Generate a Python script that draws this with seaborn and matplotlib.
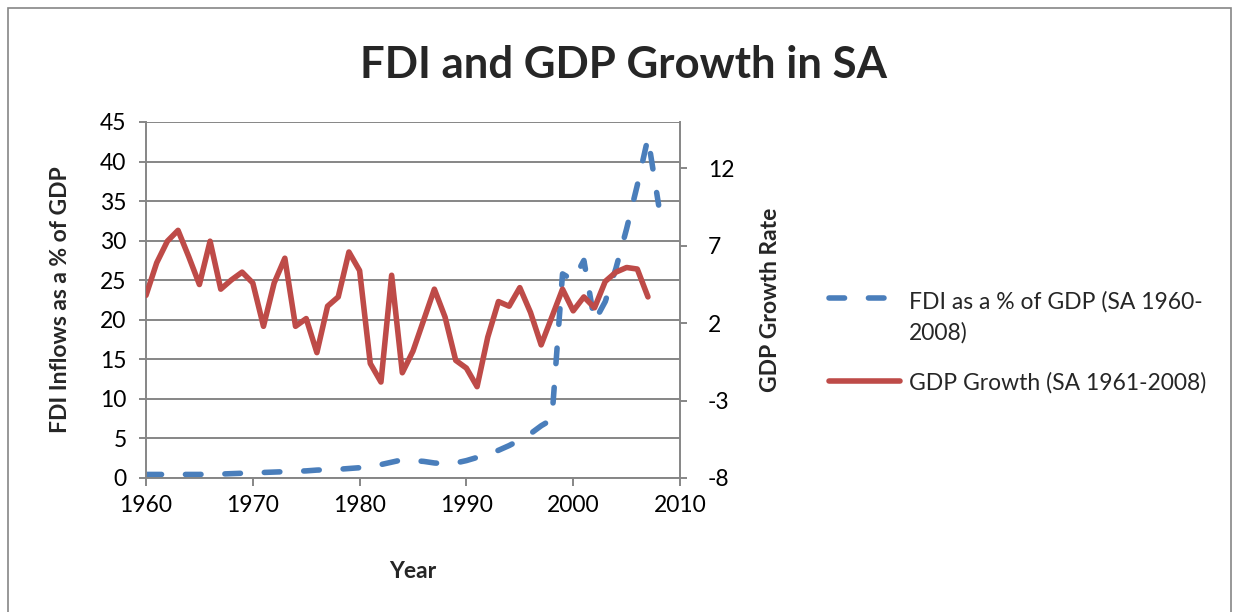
import numpy as np
import pandas as pd
import matplotlib
matplotlib.use("Agg")
import matplotlib.pyplot as plt
import seaborn as sns
from matplotlib.patches import Rectangle
from matplotlib.legend_handler import HandlerLine2D

# ---------------- data ----------------
fdi_years = list(range(1960, 2009))
fdi_values = [0.45, 0.45, 0.45, 0.45, 0.45, 0.45, 0.5, 0.5, 0.55, 0.6,
              0.65, 0.7, 0.75, 0.8, 0.85, 0.9, 1.0, 1.05, 1.1, 1.2,
              1.3, 1.45, 1.7, 2.0, 2.3, 2.2, 2.1, 1.9, 1.8, 1.9,
              2.2, 2.6, 3.0, 3.5, 4.1, 4.8, 5.6, 6.6, 7.4, 25.8,
              25.0, 27.5, 19.8, 22.3, 26.5, 31.5, 37.0, 43.0, 34.5]

gdp_years = list(range(1960, 2008))
gdp_values = [3.8, 5.9, 7.3, 8.0, 6.3, 4.5, 7.3, 4.2, 4.8, 5.3,
              4.6, 1.8, 4.6, 6.2, 1.8, 2.3, 0.1, 3.1, 3.7, 6.6,
              5.4, -0.6, -1.8, 5.1, -1.2, 0.2, 2.2, 4.2, 2.4, -0.4,
              -0.9, -2.1, 1.1, 3.4, 3.1, 4.3, 2.7, 0.6, 2.4, 4.2,
              2.8, 3.7, 3.0, 4.7, 5.3, 5.6, 5.5, 3.7]

x_ticks = [1960, 1970, 1980, 1990, 2000, 2010]
left_ticks = [0, 5, 10, 15, 20, 25, 30, 35, 40, 45]
right_ticks = [-8, -3, 2, 7, 12]

title_text = "FDI and GDP Growth in SA"
x_label = "Year"
left_label = "FDI Inflows as a % of GDP"
right_label = "GDP Growth Rate"
fdi_label = "FDI as a % of GDP (SA 1960-\n2008)"
gdp_label = "GDP Growth (SA 1961-2008)"

df_fdi = pd.DataFrame({"Year": fdi_years, "FDI": fdi_values})
df_gdp = pd.DataFrame({"Year": gdp_years, "GDP": gdp_values})

# ---------------- style ----------------
sns.set_theme(style="white")
plt.rcParams['font.family'] = ['Lato', 'DejaVu Sans']
plt.rcParams['axes.unicode_minus'] = False

BLUE = "#4A7EBB"
RED = "#BE4B48"
GRID = "#868686"
FS = 16.5

fig = plt.figure(figsize=(12.39, 6.12), dpi=100)
fig.patch.set_facecolor("white")
L, R, T, B = 146 / 1239, 680 / 1239, 1 - 122 / 612, 1 - 478 / 612
ax = fig.add_axes([L, B, R - L, T - B])
ax2 = ax.twinx()

sns.lineplot(data=df_fdi, x="Year", y="FDI", ax=ax, color=BLUE, linewidth=4.0,
             linestyle=(0, (2.8, 4.3)), dash_capstyle="round", label=fdi_label,
             legend=False)
sns.lineplot(data=df_gdp, x="Year", y="GDP", ax=ax2, color=RED, linewidth=4.0,
             solid_capstyle="round", solid_joinstyle="round", label=gdp_label,
             legend=False)

ax.set_xlim(1960, 2010)
ax.set_ylim(0, 45)
ax2.set_ylim(-8, 15)
ax.set_xticks(x_ticks)
ax.set_yticks(left_ticks)
ax2.set_yticks(right_ticks)

ax.set_axisbelow(True)
ax.yaxis.grid(True, color=GRID, linewidth=1.4)
ax.xaxis.grid(False)
ax2.grid(False)

for s in ["top", "right"]:
    ax.spines[s].set_visible(False)
for s in ["left", "bottom"]:
    ax.spines[s].set_color(GRID)
    ax.spines[s].set_linewidth(1.4)
for s in ["top", "left", "bottom"]:
    ax2.spines[s].set_visible(False)
ax2.spines["right"].set_color(GRID)
ax2.spines["right"].set_linewidth(1.4)

ax.tick_params(axis="y", direction="out", length=5, width=1.4, color=GRID,
               labelsize=FS, pad=9, left=True, labelcolor="black")
ax.tick_params(axis="x", direction="out", length=6, width=1.4, color=GRID,
               labelsize=FS, pad=6, bottom=True, labelcolor="black")
ax2.tick_params(axis="y", direction="out", length=5, width=1.4, color=GRID,
                labelsize=FS, pad=15, right=True, labelcolor="black")

ax.set_xlabel(x_label, fontsize=FS, fontweight="bold")
ax.set_ylabel(left_label, fontsize=FS, fontweight="bold")
ax2.set_ylabel(right_label, fontsize=FS, fontweight="bold")
ax.xaxis.set_label_coords(0.5, (478 - 561) / 356)
ax.yaxis.set_label_coords((71 - 146) / 534, 0.5)
ax2.yaxis.set_label_coords((760 - 146) / 534, 0.5)

fig.text(624 / 1239, 1 - 65 / 612, title_text, ha="center", va="center",
         fontsize=31.5, fontweight="bold")


class FirstLineHandler(HandlerLine2D):
    def __init__(self, shift=0.0, **kw):
        super().__init__(**kw)
        self.shift = shift

    def create_artists(self, legend, orig_handle, xdescent, ydescent, width,
                       height, fontsize, trans):
        arts = super().create_artists(legend, orig_handle, xdescent, ydescent,
                                      width, height, fontsize, trans)
        for a in arts:
            a.set_ydata(np.asarray(a.get_ydata()) + self.shift)
        return arts


h1 = ax.lines[0]
h2 = ax2.lines[0]
leg = fig.legend([h1, h2], [fdi_label, gdp_label], loc="center left",
                 bbox_to_anchor=(829 / 1239, 1 - 342 / 612), frameon=False,
                 fontsize=FS, handlelength=3.1, handletextpad=0.4,
                 labelspacing=1.25, borderpad=0, borderaxespad=0,
                 handler_map={h1: FirstLineHandler(shift=14.0)})
for t in leg.get_texts():
    t.set_linespacing(1.55)

fig.add_artist(Rectangle((8 / 1239, -0.05), (1231 - 8) / 1239, 1.05 - 8 / 612,
                         transform=fig.transFigure, fill=False,
                         edgecolor=GRID, linewidth=1.2))

fig.savefig("out.png", dpi=100, facecolor="white")
